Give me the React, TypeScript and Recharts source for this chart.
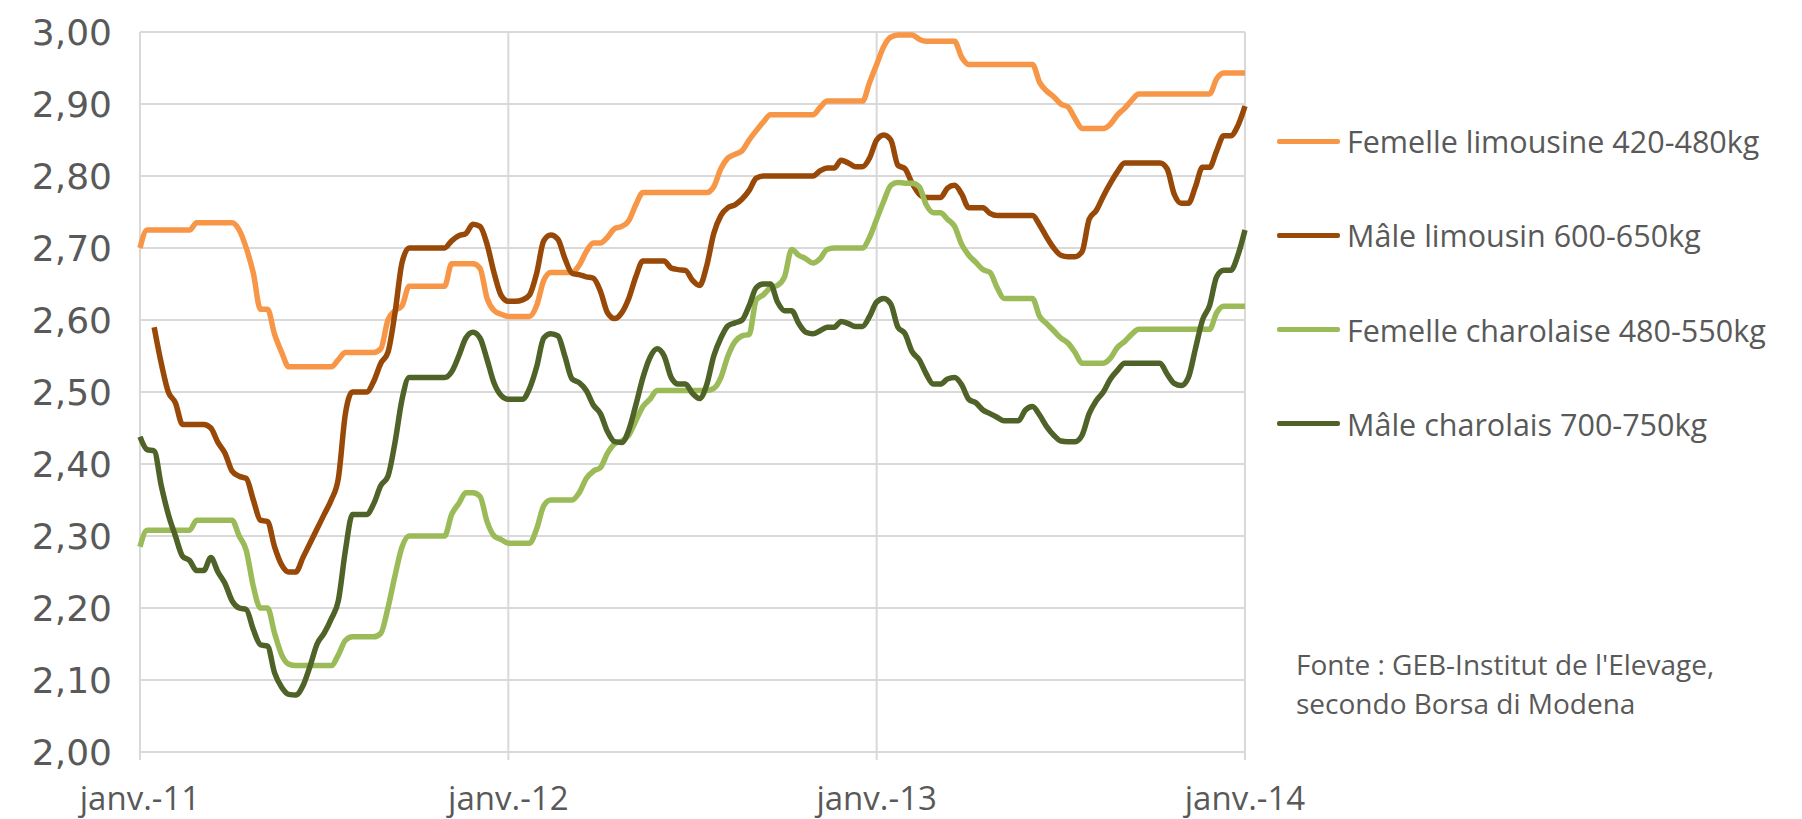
import { LineChart, Line, XAxis, YAxis, CartesianGrid } from 'recharts'

// weekly prices, €/kg, from janv. 2011 (week 0) to janv. 2014 (week 156)
const femelleLimousine = [
  2.70, 2.725, 2.725, 2.725, 2.725, 2.725, 2.725, 2.725, 2.735, 2.735,
  2.735, 2.735, 2.735, 2.735, 2.725, 2.70, 2.665, 2.615, 2.615, 2.58,
  2.555, 2.535, 2.535, 2.535, 2.535, 2.535, 2.535, 2.535, 2.545, 2.555,
  2.555, 2.555, 2.555, 2.555, 2.56, 2.60, 2.613, 2.62, 2.647, 2.647,
  2.647, 2.647, 2.647, 2.647, 2.678, 2.678, 2.678, 2.678, 2.672, 2.63,
  2.613, 2.608, 2.605, 2.605, 2.605, 2.605, 2.62, 2.655, 2.666, 2.666,
  2.666, 2.666, 2.676, 2.695, 2.707, 2.707, 2.715, 2.727, 2.73, 2.738,
  2.76, 2.777, 2.777, 2.777, 2.777, 2.777, 2.777, 2.777, 2.777, 2.777,
  2.777, 2.785, 2.81, 2.825, 2.83, 2.835, 2.85, 2.863, 2.875, 2.885,
  2.885, 2.885, 2.885, 2.885, 2.885, 2.885, 2.895, 2.904, 2.904, 2.904,
  2.904, 2.904, 2.904, 2.93, 2.955, 2.98, 2.993, 2.996, 2.996, 2.996,
  2.99, 2.987, 2.987, 2.987, 2.987, 2.987, 2.965, 2.955, 2.955, 2.955,
  2.955, 2.955, 2.955, 2.955, 2.955, 2.955, 2.955, 2.93, 2.918, 2.91,
  2.90, 2.896, 2.88, 2.866, 2.866, 2.866, 2.866, 2.872, 2.885, 2.894,
  2.905, 2.914, 2.914, 2.914, 2.914, 2.914, 2.914, 2.914, 2.914, 2.914,
  2.914, 2.914, 2.935, 2.943, 2.943, 2.943, 2.943,
]

const maleLimousin = [
  null, null, 2.59, 2.54, 2.50, 2.485, 2.455, 2.455, 2.455, 2.455,
  2.45, 2.43, 2.415, 2.39, 2.383, 2.38, 2.35, 2.322, 2.32, 2.285,
  2.26, 2.25, 2.25, 2.27, 2.29, 2.31, 2.33, 2.35, 2.38, 2.47,
  2.50, 2.50, 2.50, 2.515, 2.54, 2.555, 2.61, 2.68, 2.70, 2.70,
  2.70, 2.70, 2.70, 2.70, 2.71, 2.717, 2.72, 2.733, 2.73, 2.705,
  2.665, 2.634, 2.626, 2.626, 2.628, 2.635, 2.665, 2.71, 2.718, 2.712,
  2.685, 2.665, 2.663, 2.66, 2.658, 2.64, 2.61, 2.602, 2.61, 2.63,
  2.66, 2.682, 2.682, 2.682, 2.682, 2.672, 2.67, 2.669, 2.655, 2.648,
  2.675, 2.72, 2.745, 2.756, 2.76, 2.768, 2.78, 2.797, 2.80, 2.80,
  2.80, 2.80, 2.80, 2.80, 2.80, 2.80, 2.807, 2.811, 2.811, 2.822,
  2.818, 2.813, 2.813, 2.825, 2.85, 2.857, 2.85, 2.815, 2.81, 2.79,
  2.775, 2.77, 2.77, 2.77, 2.783, 2.787, 2.775, 2.756, 2.756, 2.756,
  2.748, 2.745, 2.745, 2.745, 2.745, 2.745, 2.745, 2.732, 2.715, 2.70,
  2.69, 2.688, 2.688, 2.695, 2.74, 2.752, 2.772, 2.79, 2.806, 2.818,
  2.818, 2.818, 2.818, 2.818, 2.818, 2.81, 2.775, 2.762, 2.762, 2.785,
  2.812, 2.812, 2.835, 2.856, 2.856, 2.87, 2.897,
]

const femelleCharolaise = [
  2.285, 2.308, 2.308, 2.308, 2.308, 2.308, 2.308, 2.308, 2.322, 2.322,
  2.322, 2.322, 2.322, 2.322, 2.30, 2.28, 2.23, 2.20, 2.20, 2.165,
  2.135, 2.122, 2.12, 2.12, 2.12, 2.12, 2.12, 2.12, 2.135, 2.155,
  2.16, 2.16, 2.16, 2.16, 2.165, 2.20, 2.245, 2.285, 2.30, 2.30,
  2.30, 2.30, 2.30, 2.30, 2.33, 2.345, 2.36, 2.36, 2.355, 2.32,
  2.30, 2.295, 2.29, 2.29, 2.29, 2.29, 2.31, 2.342, 2.35, 2.35,
  2.35, 2.35, 2.36, 2.38, 2.39, 2.395, 2.415, 2.428, 2.432, 2.44,
  2.46, 2.48, 2.49, 2.502, 2.502, 2.502, 2.502, 2.502, 2.502, 2.502,
  2.502, 2.505, 2.52, 2.55, 2.57, 2.578, 2.58, 2.628, 2.635, 2.645,
  2.648, 2.66, 2.698, 2.69, 2.685, 2.679, 2.685, 2.698, 2.70, 2.70,
  2.70, 2.70, 2.70, 2.715, 2.74, 2.765, 2.787, 2.791, 2.79, 2.79,
  2.785, 2.76, 2.749, 2.749, 2.74, 2.73, 2.705, 2.69, 2.68, 2.67,
  2.666, 2.645, 2.63, 2.63, 2.63, 2.63, 2.63, 2.605, 2.595, 2.585,
  2.575, 2.568, 2.555, 2.54, 2.54, 2.54, 2.54, 2.547, 2.562, 2.57,
  2.58, 2.587, 2.587, 2.587, 2.587, 2.587, 2.587, 2.587, 2.587, 2.587,
  2.587, 2.587, 2.61, 2.619, 2.619, 2.619, 2.619,
]

const maleCharolais = [
  2.438, 2.42, 2.418, 2.37, 2.33, 2.30, 2.272, 2.266, 2.252, 2.252,
  2.27, 2.25, 2.234, 2.21, 2.20, 2.198, 2.17, 2.149, 2.147, 2.11,
  2.09, 2.08, 2.079, 2.092, 2.119, 2.15, 2.165, 2.185, 2.21, 2.28,
  2.33, 2.33, 2.33, 2.345, 2.37, 2.383, 2.43, 2.49, 2.52, 2.52,
  2.52, 2.52, 2.52, 2.52, 2.528, 2.55, 2.575, 2.583, 2.575, 2.545,
  2.512, 2.495, 2.49, 2.49, 2.49, 2.505, 2.535, 2.575, 2.581, 2.578,
  2.549, 2.518, 2.513, 2.502, 2.482, 2.47, 2.445, 2.431, 2.43, 2.447,
  2.482, 2.52, 2.548, 2.56, 2.55, 2.52, 2.511, 2.511, 2.498, 2.491,
  2.51, 2.55, 2.575, 2.592, 2.596, 2.60, 2.62, 2.645, 2.65, 2.65,
  2.625, 2.613, 2.613, 2.595, 2.583, 2.581, 2.585, 2.59, 2.59, 2.598,
  2.595, 2.591, 2.591, 2.605, 2.625, 2.63, 2.622, 2.59, 2.581, 2.556,
  2.545, 2.525, 2.511, 2.511, 2.518, 2.52, 2.51, 2.49, 2.485, 2.475,
  2.47, 2.465, 2.46, 2.46, 2.46, 2.475, 2.48, 2.468, 2.452, 2.44,
  2.432, 2.431, 2.431, 2.44, 2.47, 2.488, 2.50, 2.518, 2.53, 2.54,
  2.54, 2.54, 2.54, 2.54, 2.54, 2.525, 2.512, 2.509, 2.52, 2.56,
  2.60, 2.62, 2.66, 2.669, 2.669, 2.69, 2.725,
]

const xTicks = [0, 52, 104, 156]
const xTickLabels = ['janv.-11', 'janv.-12', 'janv.-13', 'janv.-14']
const yTicks = [2.0, 2.1, 2.2, 2.3, 2.4, 2.5, 2.6, 2.7, 2.8, 2.9, 3.0]

const series = [
  { key: 'femLim', name: 'Femelle limousine 420-480kg', color: '#F79646', values: femelleLimousine },
  { key: 'maleLim', name: 'Mâle limousin 600-650kg', color: '#984807', values: maleLimousin },
  { key: 'femChar', name: 'Femelle charolaise 480-550kg', color: '#9BBB59', values: femelleCharolaise },
  { key: 'maleChar', name: 'Mâle charolais 700-750kg', color: '#4F6228', values: maleCharolais },
]

const data = femelleLimousine.map((_, i) => {
  const row: Record<string, number | null> = { w: i }
  series.forEach((s) => { row[s.key] = s.values[i] })
  return row
})

const FONT = '"Open Sans", sans-serif'
const TEXT = '#595959'

export default function App() {
  return (
    <div style={{ position: 'absolute', left: 0, top: 0, width: 1802, height: 819, background: '#fff', fontFamily: FONT }}>
      <LineChart width={1802} height={819} data={data} margin={{ top: 32, right: 557, bottom: 0, left: 0 }}>
        <CartesianGrid stroke="#d9d9d9" strokeWidth={2} />
        <XAxis
          dataKey="w"
          type="number"
          domain={[0, 156]}
          ticks={xTicks}
          tickFormatter={(v) => xTickLabels[xTicks.indexOf(v)]}
          height={67}
          axisLine={false}
          tickLine={{ stroke: '#d9d9d9', strokeWidth: 2 }}
          tickSize={8}
          tickMargin={27}
          tick={{ fill: TEXT, fontSize: 33, fontFamily: FONT }}
        />
        <YAxis
          type="number"
          domain={[2, 3]}
          ticks={yTicks}
          tickFormatter={(v) => v.toFixed(2).replace('.', ',')}
          width={140}
          axisLine={false}
          tickLine={false}
          tickSize={0}
          tickMargin={28}
          tick={{ fill: TEXT, fontSize: 36, fontFamily: '"DejaVu Sans", sans-serif' }}
        />
        {series.map((s) => (
          <Line
            key={s.key}
            dataKey={s.key}
            name={s.name}
            type="monotone"
            stroke={s.color}
            strokeWidth={5.5}
            strokeLinejoin="round"
            dot={false}
            connectNulls={false}
            isAnimationActive={false}
          />
        ))}
      </LineChart>

      {series.map((s, i) => (
        <div
          key={s.key}
          style={{ position: 'absolute', left: 1277, top: 141 + i * 94.3 - 20, height: 40, display: 'flex', alignItems: 'center' }}
        >
          <div style={{ width: 63, height: 5, background: s.color, borderRadius: 2 }} />
          <span style={{ marginLeft: 7, fontSize: 30.5, color: TEXT, whiteSpace: 'nowrap' }}>{s.name}</span>
        </div>
      ))}

      <div style={{ position: 'absolute', left: 1296, top: 645, fontSize: 28, lineHeight: '39px', color: TEXT, whiteSpace: 'nowrap' }}>
        Fonte : GEB-Institut de l'Elevage,
        <br />
        secondo Borsa di Modena
      </div>
    </div>
  )
}
